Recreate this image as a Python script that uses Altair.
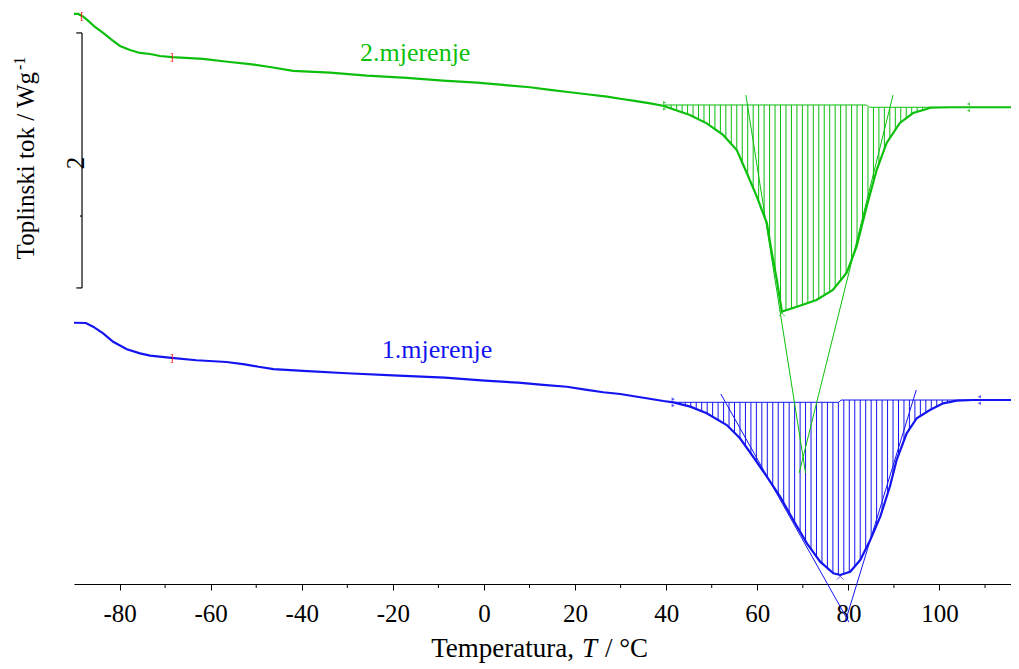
import altair as alt
import numpy as np
import pandas as pd

GREEN = "#0cbf0c"
GREEN_TXT = "#2bb673"
BLUE = "#1414f0"
BLUE_TXT = "#2a2ae8"
FONT = "Liberation Serif"

# ---- curve 2.mjerenje (green): temperature (°C) and heat flow (W/g, offset) ----
g_T = [-90.0, -89.1, -88.2, -87.1, -85.4, -83.6, -81.7, -79.9, -77.7, -75.5, -73.3, -71.1,
       -68.5, -61.7, -55.8, -51.4, -47.0, -41.9, -33.8, -25.7, -16.9, -9.0, -1.5, 4.2, 10.1,
       14.5, 18.9, 22.6, 27.0, 29.9, 32.7, 36.5, 39.3, 45.2, 48.9, 52.5, 55.5, 57.7, 59.9,
       62.1, 63.2, 64.3, 65.4, 68.7, 73.0, 76.6, 79.6, 81.8, 84.0, 86.2, 88.4, 91.3, 94.2,
       97.2, 97.9, 102.3, 115.7]
g_v = [4.471, 4.471, 4.455, 4.424, 4.369, 4.322, 4.267, 4.220, 4.188, 4.165, 4.157, 4.141,
       4.133, 4.118, 4.094, 4.078, 4.055, 4.024, 4.010, 3.987, 3.969, 3.948, 3.932, 3.914, 3.896,
       3.875, 3.857, 3.841, 3.822, 3.806, 3.791, 3.770, 3.751, 3.678, 3.613, 3.522, 3.404, 3.224, 3.038,
       2.831, 2.596, 2.384, 2.136, 2.175, 2.227, 2.306, 2.439, 2.645, 2.959, 3.247, 3.459, 3.616, 3.694,
       3.725, 3.736, 3.739, 3.739]

# ---- curve 1.mjerenje (blue) ----
b_T = [-90.0, -87.4, -85.8, -83.6, -81.4, -78.4, -75.5, -73.3, -68.6, -63.1, -56.5, -52.5,
       -49.5, -46.2, -39.7, -30.1, -18.8, -8.6, 0.2, 7.5, 13.0, 18.2, 22.6, 26.2, 29.9, 35.0,
       39.4, 41.6, 45.3, 48.9, 53.3, 56.2, 59.1, 62.1, 65.0, 67.9, 70.9, 73.8, 76.7, 78.2,
       80.4, 82.6, 84.8, 87.0, 89.1, 90.6, 92.8, 95.0, 97.9, 100.8, 103.8, 107.4, 115.7]
b_v = [2.049, 2.047, 2.018, 1.966, 1.900, 1.841, 1.809, 1.791, 1.773, 1.755, 1.741, 1.723,
       1.704, 1.686, 1.671, 1.653, 1.634, 1.618, 1.595, 1.579, 1.561, 1.547, 1.522, 1.504, 1.490, 1.461,
       1.435, 1.425, 1.391, 1.339, 1.247, 1.143, 0.998, 0.842, 0.685, 0.502, 0.319, 0.175, 0.084, 0.071,
       0.096, 0.188, 0.345, 0.528, 0.763, 0.973, 1.182, 1.300, 1.365, 1.417, 1.438, 1.443, 1.443]

# integration baselines
g_base_T = [39.3, 83.9, 84.6, 97.9]
g_base_v = [3.757, 3.757, 3.739, 3.739]
b_base_T = [41.2, 77.9, 78.4, 108.9]
b_base_v = [1.425, 1.425, 1.443, 1.443]

# integration limits (T, v)
g_lim_T = [39.3, 106.7]
g_lim_v = [3.751, 3.739]
b_lim_T = [41.2, 109.1]
b_lim_v = [1.425, 1.443]

# tangent (onset / endset) lines
tan_group = ["g1", "g1", "g2", "g2", "b1", "b1", "b2", "b2"]
tan_T = [57.5, 70.6, 89.8, 69.2, 52.0, 80.1, 94.9, 79.3]
tan_v = [3.835, 0.871, 3.835, 0.871, 1.490, -0.298, 1.522, -0.298]

# peak markers
peak_T = [65.4, 78.2]
peak_v = [2.125, 0.060]
peak_c = ["g", "b"]

# glass transition evaluation brackets (red)
br_T = [-88.2, -68.5, -68.5]
br_v = [4.455, 4.133, 1.773]
br_s = ["[", "]", "]"]

# hatch positions (shading of integrated area)
g_hatch = np.arange(39.9, 97.6, 1.2)
b_hatch = np.arange(41.8, 106.0, 1.2)

xticks = [-80, -60, -40, -20, 0, 20, 40, 60, 80, 100]
minor_ticks = [-70, -50, -30, -10, 10, 30, 50, 70, 90, 110]

XS = alt.Scale(domain=[-90, 115.7], nice=False, zero=False)
YS = alt.Scale(domain=[0, 4.5176], nice=False, zero=False)
X = alt.X("T:Q", scale=XS, title=None,
          axis=alt.Axis(values=xticks, labelExpr="'' + datum.value", labelFont=FONT,
                        labelFontSize=25, labelColor="black", tickColor="black",
                        domainColor="black", tickSize=6, labelPadding=11, grid=False,
                        labelFlush=False, labelOverlap=False, domainWidth=1, tickWidth=1))
Y = alt.Y("v:Q", scale=YS, axis=None)

green = pd.DataFrame({"T": g_T, "v": g_v})
blue = pd.DataFrame({"T": b_T, "v": b_v})

gh = pd.DataFrame({"T": g_hatch})
gh["v"] = np.where(gh["T"] < 84.2, g_base_v[0], g_base_v[-1])
gh["v2"] = 2.12
bh = pd.DataFrame({"T": b_hatch})
bh["v"] = np.where(bh["T"] < 78.1, b_base_v[0], b_base_v[-1])
bh["v2"] = 0.06

layers = []
layers.append(alt.Chart(gh).mark_rule(color=GREEN, strokeWidth=1).encode(x=X, y=Y, y2="v2:Q"))
layers.append(alt.Chart(bh).mark_rule(color=BLUE, strokeWidth=1).encode(x=X, y=Y, y2="v2:Q"))

# white masks below the curves to clip the hatch
layers.append(alt.Chart(green).transform_filter("datum.T >= 36 && datum.T <= 103")
              .transform_calculate(v2="2.10")
              .mark_area(color="white", opacity=1, interpolate="linear").encode(x=X, y=Y, y2="v2:Q"))
layers.append(alt.Chart(blue).transform_filter("datum.T >= 39 && datum.T <= 109")
              .transform_calculate(v2="0.04")
              .mark_area(color="white", opacity=1, interpolate="linear").encode(x=X, y=Y, y2="v2:Q"))

layers.append(alt.Chart(pd.DataFrame({"T": g_base_T, "v": g_base_v}))
              .mark_line(color=GREEN, strokeWidth=1).encode(x=X, y=Y))
layers.append(alt.Chart(pd.DataFrame({"T": b_base_T, "v": b_base_v}))
              .mark_line(color=BLUE, strokeWidth=1).encode(x=X, y=Y))

layers.append(alt.Chart(green).mark_line(color=GREEN, strokeWidth=2.2).encode(x=X, y=Y))
layers.append(alt.Chart(blue).mark_line(color=BLUE, strokeWidth=2.2).encode(x=X, y=Y))

tan = pd.DataFrame({"g": tan_group, "T": tan_T, "v": tan_v})
layers.append(alt.Chart(tan).transform_filter("indexof(datum.g, 'g') == 0")
              .mark_line(color=GREEN, strokeWidth=1).encode(x=X, y=Y, detail="g:N"))
layers.append(alt.Chart(tan).transform_filter("indexof(datum.g, 'b') == 0")
              .mark_line(color=BLUE, strokeWidth=1).encode(x=X, y=Y, detail="g:N"))

LEFT_LIM = "M0,-1L0,1M0,-0.7L0.45,-0.45L0,-0.2ZM0,0.2L0.45,0.45L0,0.7Z"
RIGHT_LIM = "M0,-1L0,1M0,-0.7L-0.45,-0.45L0,-0.2ZM0,0.2L-0.45,0.45L0,0.7Z"
for Ts, vs, col in [(g_lim_T, g_lim_v, GREEN), (b_lim_T, b_lim_v, BLUE)]:
    layers.append(alt.Chart(pd.DataFrame({"T": Ts[:1], "v": vs[:1]}))
                  .mark_point(shape=LEFT_LIM, size=200, filled=True, color=col, strokeWidth=1.3)
                  .encode(x=X, y=Y))
    layers.append(alt.Chart(pd.DataFrame({"T": Ts[1:], "v": vs[1:]}))
                  .mark_point(shape=RIGHT_LIM, size=200, filled=True, color=col, strokeWidth=1.3)
                  .encode(x=X, y=Y))

pk = pd.DataFrame({"T": peak_T, "v": peak_v, "c": peak_c})
layers.append(alt.Chart(pk).mark_point(shape="M-1,-1L1,1M1,-1L-1,1", size=40, strokeWidth=1)
              .encode(x=X, y=Y,
                      color=alt.Color("c:N", scale=alt.Scale(domain=["g", "b"], range=[GREEN, BLUE]),
                                      legend=None)))

br = pd.DataFrame({"T": br_T, "v": br_v, "s": br_s})
layers.append(alt.Chart(br).mark_text(color="red", fontSize=11, font=FONT, baseline="middle",
                                      align="center").encode(x=X, y=Y, text="s:N"))

# curve labels
lab = pd.DataFrame({"T": [-15.1, -10.3], "v": [4.098, 1.774], "s": ["2.mjerenje", "1.mjerenje"],
                    "c": ["g", "b"]})
layers.append(alt.Chart(lab).mark_text(fontSize=26, font=FONT, baseline="alphabetic", align="center")
              .encode(x=X, y=Y, text="s:N",
                      color=alt.Color("c:N", scale=alt.Scale(domain=["g", "b"], range=[GREEN_TXT, BLUE_TXT]),
                                      legend=None)))

# y scale bar (2 W/g)
bar = pd.DataFrame({"T": [-88.24], "v": [2.322], "v2": [4.322]})
layers.append(alt.Chart(bar).mark_rule(color="black", strokeWidth=1.2).encode(x=X, y=Y, y2="v2:Q"))
bar_ticks = pd.DataFrame({"T": [-89.5, -89.5, -88.7], "T2": [-88.24, -88.24, -88.24],
                          "v": [4.322, 2.322, 2.886]})
layers.append(alt.Chart(bar_ticks).mark_rule(color="black", strokeWidth=1.2)
              .encode(x=X, x2="T2:Q", y=Y))
layers.append(alt.Chart(pd.DataFrame({"T": [-87.8], "v": [3.302], "s": ["2"]}))
              .mark_text(fontSize=25, font=FONT, angle=270, align="center", baseline="alphabetic",
                         color="black").encode(x=X, y=Y, text="s:N"))

# minor ticks on x axis
layers.append(alt.Chart(pd.DataFrame({"T": minor_ticks})).mark_rule(color="black", strokeWidth=1)
              .encode(x=X, y=alt.value(576), y2=alt.value(580)))

# axis titles
layers.append(alt.Chart(pd.DataFrame({"s": ["Toplinski tok / Wg"]}))
              .mark_text(fontSize=25, font=FONT, angle=270, align="right", baseline="alphabetic",
                         color="black")
              .encode(x=alt.value(-40), y=alt.value(64), text="s:N"))
layers.append(alt.Chart(pd.DataFrame({"s": ["-1"]}))
              .mark_text(fontSize=16, font=FONT, angle=270, align="left", baseline="alphabetic",
                         color="black")
              .encode(x=alt.value(-49), y=alt.value(62), text="s:N"))
layers.append(alt.Chart(pd.DataFrame({"s": ["Temperatura,"]}))
              .mark_text(fontSize=27, font=FONT, align="right", baseline="alphabetic", color="black")
              .encode(x=alt.value(500), y=alt.value(649), text="s:N"))
layers.append(alt.Chart(pd.DataFrame({"s": ["T"]}))
              .mark_text(fontSize=27, font=FONT, fontStyle="italic", align="left",
                         baseline="alphabetic", color="black")
              .encode(x=alt.value(508), y=alt.value(649), text="s:N"))
layers.append(alt.Chart(pd.DataFrame({"s": ["/ °C"]}))
              .mark_text(fontSize=27, font=FONT, align="left", baseline="alphabetic", color="black")
              .encode(x=alt.value(531), y=alt.value(649), text="s:N"))

chart = alt.layer(*layers).properties(
    width=937, height=576,
    padding={"left": 66, "top": 0, "right": 0, "bottom": 82},
    autosize=alt.AutoSizeParams(type="none"),
    background="white",
).configure_view(strokeWidth=0)

chart.save("out.html", embed_options={"renderer": "svg", "actions": False})
